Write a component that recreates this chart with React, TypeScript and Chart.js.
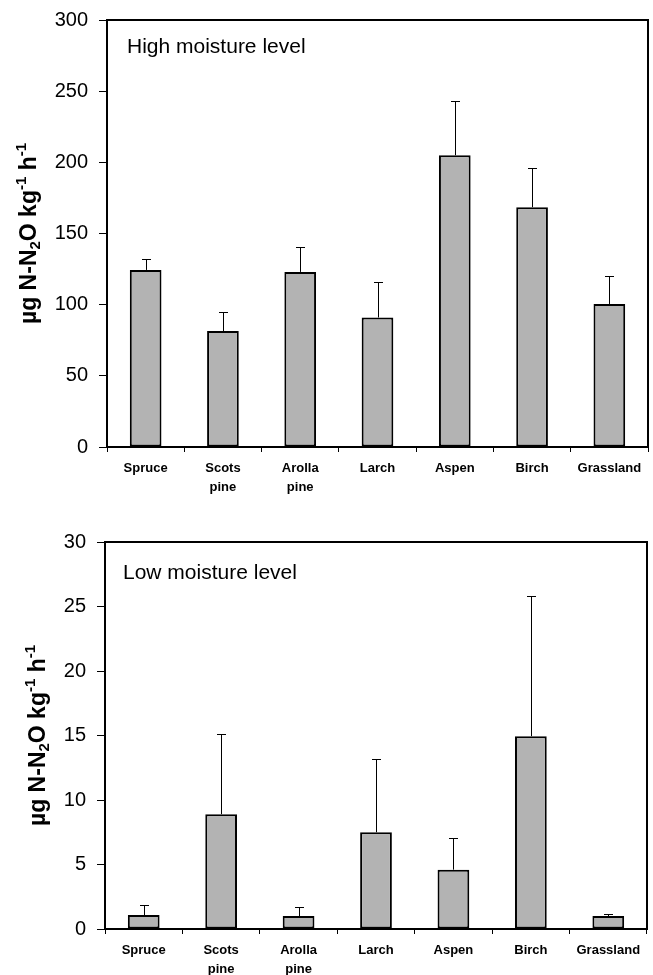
import React, { useEffect, useRef } from "react";
import { Chart, registerables } from "chart.js";

Chart.register(...registerables);

const categories: string[][] = [
  ["Spruce"],
  ["Scots", "pine"],
  ["Arolla", "pine"],
  ["Larch"],
  ["Aspen"],
  ["Birch"],
  ["Grassland"],
];

const highMeans = [124.4, 81.5, 123, 91, 205, 168.5, 100.5];
const highErrors = [7.5, 13, 17.5, 25, 38, 27.5, 19.5];
const highTicks = { min: 0, max: 300, step: 50 };

const lowMeans = [1.08, 8.9, 1.0, 7.5, 4.6, 14.95, 1.0];
const lowErrors = [0.78, 6.2, 0.68, 5.65, 2.45, 10.9, 0.14];
const lowTicks = { min: 0, max: 30, step: 5 };

const FONT = "'Liberation Sans', Arial, Helvetica, sans-serif";

type PanelProps = {
  label: string;
  means: number[];
  errors: number[];
  ticks: { min: number; max: number; step: number };
  top: number;
  height: number;
  padTop: number;
  padRight: number;
  yWidth: number;
  xHeight: number;
  titleX: number;
  labelX: number;
  labelY: number;
};

function ChartPanel(p: PanelProps) {
  const ref = useRef<HTMLCanvasElement | null>(null);
  useEffect(() => {
    if (!ref.current) return;
    const decor = {
      id: "decor",
      afterDatasetsDraw(chart: any) {
        const ctx = chart.ctx;
        const ys = chart.scales.y;
        const meta = chart.getDatasetMeta(0);
        ctx.save();
        // error bars
        ctx.strokeStyle = "#000";
        ctx.lineWidth = 1;
        p.means.forEach((m, i) => {
          const el = meta.data[i];
          const x = Math.round(el.x) + 0.5;
          const y0 = ys.getPixelForValue(m);
          const y1 = Math.round(ys.getPixelForValue(m + p.errors[i])) + 0.5;
          ctx.beginPath();
          ctx.moveTo(x, y0);
          ctx.lineTo(x, y1);
          ctx.moveTo(x - 4.5, y1);
          ctx.lineTo(x + 4.5, y1);
          ctx.stroke();
        });
        // frame
        const a = chart.chartArea;
        ctx.lineWidth = 2;
        ctx.strokeRect(a.left, a.top, a.right - a.left, a.bottom - a.top);
        // in-plot label
        ctx.fillStyle = "#000";
        ctx.font = `21px ${FONT}`;
        ctx.textBaseline = "middle";
        ctx.textAlign = "left";
        ctx.fillText(p.label, p.labelX, p.labelY);
        // y title with sub/superscripts
        const segs: { t: string; size: number; dv: number }[] = [
          { t: "µg N-N", size: 23, dv: 0 },
          { t: "2", size: 15, dv: 4 },
          { t: "O kg", size: 23, dv: 0 },
          { t: "-1", size: 15, dv: -10 },
          { t: " h", size: 23, dv: 0 },
          { t: "-1", size: 15, dv: -10 },
        ];
        let total = 0;
        const widths = segs.map((s) => {
          ctx.font = `bold ${s.size}px ${FONT}`;
          const w = ctx.measureText(s.t).width;
          total += w;
          return w;
        });
        const cy = (a.top + a.bottom) / 2;
        ctx.translate(p.titleX, cy);
        ctx.rotate(-Math.PI / 2);
        ctx.textBaseline = "alphabetic";
        let u = -total / 2;
        segs.forEach((s, i) => {
          ctx.font = `bold ${s.size}px ${FONT}`;
          ctx.fillText(s.t, u, 8 + s.dv);
          u += widths[i];
        });
        ctx.restore();
      },
    };
    const chart = new Chart(ref.current, {
      type: "bar",
      data: {
        labels: categories,
        datasets: [
          {
            data: p.means,
            backgroundColor: "#b3b3b3",
            borderColor: "#000",
            borderWidth: 2,
            borderSkipped: false,
            barPercentage: 0.41,
            categoryPercentage: 1,
          },
        ],
      },
      options: {
        animation: false,
        responsive: false,
        maintainAspectRatio: false,
        layout: { padding: { left: 0, right: p.padRight, top: p.padTop, bottom: 0 } },
        plugins: { legend: { display: false }, tooltip: { enabled: false } },
        scales: {
          x: {
            afterFit(scale: any) {
              scale.height = p.xHeight;
            },
            grid: {
              display: true,
              drawOnChartArea: false,
              drawTicks: true,
              tickLength: 5,
              color: "#000",
              offset: true,
            },
            border: { display: true, color: "#000", width: 2 },
            ticks: {
              color: "#000",
              font: { family: FONT, size: 13, weight: "bold", lineHeight: 1.45 },
              padding: 7,
              maxRotation: 0,
              autoSkip: false,
            },
          },
          y: {
            min: p.ticks.min,
            max: p.ticks.max,
            afterFit(scale: any) {
              scale.width = p.yWidth;
            },
            grid: {
              display: true,
              drawOnChartArea: false,
              drawTicks: true,
              tickLength: 8,
              color: "#000",
            },
            border: { display: true, color: "#000", width: 2 },
            ticks: {
              stepSize: p.ticks.step,
              color: "#000",
              font: { family: FONT, size: 20, lineHeight: 0.9 },
              padding: 11,
            },
          },
        },
      },
      plugins: [decor],
    } as any);
    return () => chart.destroy();
  }, []);
  return (
    <div style={{ width: 653, height: p.height, position: "absolute", left: 0, top: p.top }}>
      <canvas ref={ref} width={653} height={p.height} style={{ display: "block" }} />
    </div>
  );
}

export default function App() {
  return (
    <div style={{ position: "absolute", left: 0, top: 0, width: 653, height: 975, background: "#fff", overflow: "hidden" }}>
      <ChartPanel
        label="High moisture level"
        means={highMeans}
        errors={highErrors}
        ticks={highTicks}
        top={0}
        height={500}
        padTop={20}
        padRight={5}
        yWidth={107}
        xHeight={53}
        titleX={28}
        labelX={127}
        labelY={47}
      />
      <ChartPanel
        label="Low moisture level"
        means={lowMeans}
        errors={lowErrors}
        ticks={lowTicks}
        top={487}
        height={488}
        padTop={55}
        padRight={6}
        yWidth={105}
        xHeight={46}
        titleX={37}
        labelX={123}
        labelY={86}
      />
    </div>
  );
}
